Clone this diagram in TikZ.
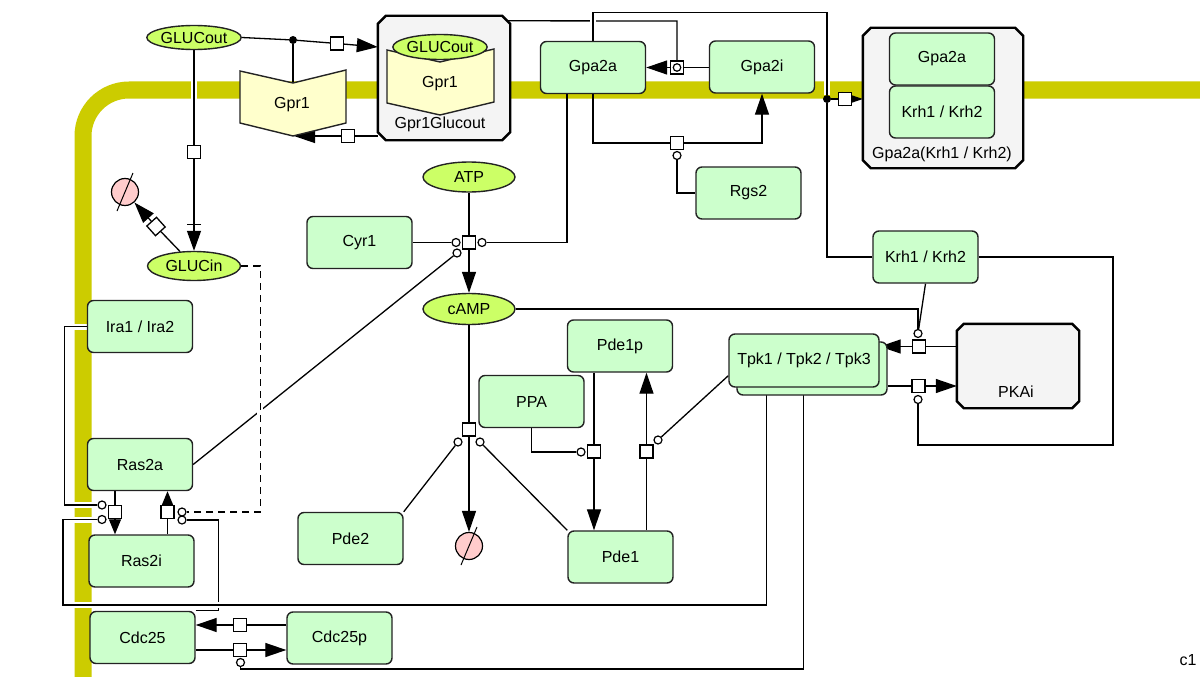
\documentclass[tikz,border=0pt]{standalone}
\usepackage{fontspec}
\setmainfont{Liberation Sans}
\usetikzlibrary{arrows.meta,shapes.geometric,calc}
\pgfdeclarelayer{memb}
\pgfdeclarelayer{lines}
\pgfsetlayers{memb,lines,main}
\definecolor{membc}{RGB}{204,204,0}
\definecolor{pgreen}{RGB}{204,255,204}
\definecolor{chemc}{RGB}{204,255,102}
\definecolor{recepc}{RGB}{255,255,204}
\definecolor{cplxc}{RGB}{244,244,244}
\definecolor{sinkc}{RGB}{255,204,204}
\definecolor{edgec}{RGB}{35,35,35}
\tikzset{
 every node/.style={font=\fontsize{16}{19}\selectfont},
 macro/.style={draw=edgec, line width=1.4pt, fill=pgreen, rounded corners=6pt, minimum width=105pt, minimum height=52pt, inner sep=0pt},
 chemnode/.style={ellipse, draw=edgec, line width=1.4pt, fill=chemc, minimum width=93pt, minimum height=26pt, inner sep=0pt},
 proc/.style={draw=black, line width=1.3pt, fill=white, minimum size=13pt, inner sep=0pt},
 modc/.style={circle, draw=black, line width=1.2pt, fill=white, minimum size=8pt, inner sep=0pt},
 dotn/.style={circle, fill=black, minimum size=8pt, inner sep=0pt},
 inv/.style={inner sep=0pt},
 conn/.style={line width=1.3pt, draw=black},
 arr/.style={conn, -{Triangle[length=21pt,width=14pt]}},
 arrs/.style={conn, -{Triangle[length=15pt,width=12pt]}},
 halo/.style={preaction={draw=white, line width=6pt}},
 halos/.style={preaction={draw=white, line width=6pt, solid}},
 sinkn/.style={circle, draw=black, line width=1.2pt, fill=sinkc, minimum size=27pt, inner sep=0pt},
 cplx/.style={draw=black, line width=2.4pt, fill=cplxc, line join=miter},
 recepsty/.style={draw=edgec, line width=1.4pt, fill=recepc, line join=miter},
 membrane/.style={line width=17pt, draw=membc},
}
\newcommand\myoctagon[3]{\draw[#3] ([xshift=#2]#1.north west) -- ([xshift=-#2]#1.north east) -- ([yshift=-#2]#1.north east) -- ([yshift=#2]#1.south east) -- ([xshift=-#2]#1.south east) -- ([xshift=#2]#1.south west) -- ([yshift=#2]#1.south west) -- ([yshift=-#2]#1.north west) -- cycle;}
\begin{document}
\begin{tikzpicture}[x=1pt,y=-1pt]
\useasboundingbox (0,0) rectangle (1200,677);
% membrane
\begin{pgfonlayer}{memb}
\fill[white] (0,0) rectangle (1200,677);
\draw[membrane, rounded corners=46pt] (83,700) -- (83,90) -- (1220,90);
\end{pgfonlayer}

% ---- complexes ----
\node[inv, minimum width=132pt, minimum height=124pt] (gprcx) at (444,78) {};
\myoctagon{gprcx}{8pt}{cplx}
\draw[recepsty] (387,50) -- (440,62) -- (494,49) -- (494,102) -- (440,115) -- (387,103) -- cycle;
\node[chemnode, minimum width=94pt, minimum height=25pt] (glucoutc) at (440,47) {GLUCout};
\node (gpr1c) at (440,84) {Gpr1};
\node (gprcxl) at (440,124) {Gpr1Glucout};

\node[inv, minimum width=160pt, minimum height=140pt] (gkcx) at (943,98) {};
\myoctagon{gkcx}{8pt}{cplx}
\node[macro] (gpa2ac) at (942,59) {Gpa2a};
\node[macro] (krhc) at (942,112) {Krh1 / Krh2};
\node (gkcxl) at (942,154) {Gpa2a(Krh1 / Krh2)};

\node[inv, minimum width=122pt, minimum height=84pt] (pkai) at (1018,366) {};
\myoctagon{pkai}{7pt}{cplx}
\node (pkail) at (1016,392) {PKAi};

% ---- receptor ----
\draw[recepsty] (240,71) -- (293,83) -- (346,70) -- (346,123) -- (293,136) -- (240,123) -- cycle;
\node (gpr1) at (292,105) {Gpr1};
\coordinate (gpr1top) at (293,83);
\coordinate (gpr1bot) at (294,136);

% ---- entity pool nodes ----
\node[chemnode, minimum height=24pt] (glucout) at (194,37.5) {GLUCout};
\node[chemnode, minimum height=29pt] (glucin) at (194,266) {GLUCin};
\node[chemnode, minimum width=92pt, minimum height=30pt] (atp) at (469,177) {ATP};
\node[chemnode, minimum width=92pt, minimum height=31pt] (camp) at (469,309) {cAMP};
\node[macro] (gpa2a) at (593,67.5) {Gpa2a};
\node[macro] (gpa2i) at (762,67) {Gpa2i};
\node[macro] (rgs2) at (748.5,193) {Rgs2};
\node[macro] (cyr1) at (359.5,242.5) {Cyr1};
\node[macro] (krh) at (925.5,257) {Krh1 / Krh2};
\node[macro] (ira) at (140,326.5) {Ira1 / Ira2};
\node[macro] (pde1p) at (620,346) {Pde1p};
\node[macro] (ppa) at (531.5,401.5) {PPA};
\node[macro, minimum width=150pt, minimum height=53pt] (tpkb) at (812,368.5) {};
\node[macro, minimum width=150pt, minimum height=53pt] (tpk) at (804,360.5) {Tpk1 / Tpk2 / Tpk3};
\node[macro] (ras2a) at (140,464.5) {Ras2a};
\node[macro] (ras2i) at (141.5,561) {Ras2i};
\node[macro] (pde2) at (350.5,538.5) {Pde2};
\node[macro] (pde1) at (620.5,557) {Pde1};
\node[macro] (cdc25) at (142.5,637.5) {Cdc25};
\node[macro] (cdc25p) at (339.5,638) {Cdc25p};
\node (c1lab) at (1188,660) {c1};

% ---- sinks ----
\node[sinkn] (sink1) at (125,192) {};
\draw[line width=1pt] ($(sink1)+(-8,19)$) -- ($(sink1)+(8,-19)$);
\node[sinkn] (sink2) at (469,546) {};
\draw[line width=1pt] ($(sink2)+(-8,19)$) -- ($(sink2)+(8,-19)$);

% ---- process nodes ----
\node[dotn] (dot1) at (293,40) {};
\node[proc] (p1) at (337,43.5) {};
\node[proc] (p2) at (348,136) {};
\node[proc] (p3) at (194,152) {};
\node[proc, rotate=42] (p4) at (156,226.5) {};
\node[proc] (p5) at (677,67.5) {};
\node[modc, minimum size=7.5pt] (p5c) at (677,67.5) {};
\node[proc] (p6) at (677,143) {};
\node[modc] (c6) at (677,155.5) {};
\node[dotn] (dot2) at (827,99) {};
\node[proc] (p7) at (845,99) {};
\node[proc] (p8) at (469,242.5) {};
\node[modc] (c8l) at (456,242.5) {};
\node[modc] (c8r) at (482,242.5) {};
\node[modc] (c8b) at (457,253) {};
\node[proc] (p9) at (469,429.5) {};
\node[modc] (c9l) at (458,442) {};
\node[modc] (c9r) at (480,442) {};
\node[proc] (p10) at (594,451.5) {};
\node[modc] (c10) at (581,452) {};
\node[proc] (p11) at (646.5,451.5) {};
\node[modc] (c11) at (658,440) {};
\node[proc] (p12) at (919,346.5) {};
\node[modc] (c12) at (918,333.5) {};
\node[proc] (p13) at (918.5,386) {};
\node[modc] (c13) at (918,399.5) {};
\node[proc] (p14) at (115,512) {};
\node[modc] (c14a) at (102,505) {};
\node[modc] (c14b) at (102,519.5) {};
\node[proc] (p15) at (167.5,512) {};
\node[modc] (c15a) at (182,512) {};
\node[modc] (c15b) at (182,520) {};
\node[proc] (p16) at (240,625) {};
\node[proc] (p17) at (240,650) {};
\node[modc] (c17) at (240.5,662.5) {};

% ---- connectors ----
\begin{pgfonlayer}{lines}
% glucose binding to Gpr1
\draw[conn] (glucout.east) -- (dot1);
\draw[conn] (gpr1top) -- (dot1);
\draw[conn] (dot1) -- (p1);
\draw[arr] (p1) -- ($(gprcx.west)+(0,-31)$);
\draw[conn] (gprcx.west |- p2) -- (p2);
\draw[arr] (p2) -- (gpr1bot);
% glucose transport
\draw[conn, halo] (glucout.south) -- (p3);
\draw[conn, -{Bar[width=14pt,sep=6pt]Triangle[length=20pt,width=14pt]}] (p3) -- (glucin);
\draw[conn] (glucin) -- (p4);
\draw[arr] (p4) -- (sink1);
% Gpa2 cycle
\draw[conn] ($(gprcx.north east)+(-3,5)$) -- (677,21) -- (p5.north);
\draw[conn] (gpa2i.west |- p5) -- (p5);
\draw[arr] (p5) -- (gpa2a.east |- p5);
\draw[conn] (gpa2a.south) |- (p6);
\draw[arr] (p6) -| (gpa2i.south);
\draw[conn] (c6) |- (rgs2.west);
% Gpa2a + Krh complex
\draw[conn, halo] (gpa2a.north) -- ++(0,-28) -| (dot2);
\draw[conn] (krh.west) -| (dot2);
\draw[conn] (dot2) -- (p7);
\draw[arr] (p7) -- (gkcx.west |- p7);
% ATP -> cAMP
\draw[conn] (atp) -- (p8);
\draw[arr] (p8) -- (camp);
\draw[conn] (cyr1.east) -- (c8l);
\draw[conn] (c8r) -| ($(gpa2a.south)+(-26,0)$);
\draw[conn] (ras2a.east) -- (c8b);
% cAMP degradation
\draw[conn] (camp) -- (p9);
\draw[arr] (p9) -- (sink2);
\draw[conn] (c9l) -- (pde2.north east);
\draw[conn] (c9r) -- (pde1.north west);
% Pde1 cycle
\draw[conn] (pde1p.south -| p10) -- (p10);
\draw[arr] (p10) -- (pde1.north -| p10);
\draw[conn] (ppa.south) |- (c10);
\draw[conn] (pde1.north -| p11) -- (p11);
\draw[arr] (p11) -- (pde1p.south -| p11);
\draw[conn] ($(tpk.south west)+(0,-12)$) -- (c11);
% PKA
\draw[conn] (pkai.west |- p12) -- (p12);
\draw[arr] (p12) -- (tpk.east |- p12);
\draw[conn] (camp.east) -| (c12);
\draw[conn] (krh.south) -- (c12);
\draw[conn] (tpkb.east |- p13) -- (p13);
\draw[arr] (p13) -- (pkai.west |- p13);
\draw[conn] (krh.east) -| (1113,445) -| (c13);
% Ras2 cycle
\draw[conn] (ras2a.south -| p14) -- (p14);
\draw[arrs] (p14) -- (ras2i.north -| p14);
\draw[conn] (ras2i.north -| p15) -- (p15);
\draw[arrs] (p15) -- (ras2a.south -| p15);
\draw[conn, halo] (ira.west) -- ++(-22,0) |- (c14a);
\draw[conn] (cdc25.north east) -- ++(23,0) |- (c15b);
\draw[conn, halos, dash pattern=on 7pt off 5pt] (glucin.east) -- ++(19,0) |- (c15a);
\draw[conn, halo] ($(tpk.south west)+(38,0)$) |- (63,605) |- (c14b);
% Cdc25 cycle
\draw[conn] (cdc25p.west |- p16) -- (p16);
\draw[arr] (p16) -- (cdc25.east |- p16);
\draw[conn] (cdc25.east |- p17) -- (p17);
\draw[arr] (p17) -- (cdc25p.west |- p17);
\draw[conn] ($(tpk.south west)+(75,0)$) |- ($(c17)+(0,6.5)$) -- (c17);
\end{pgfonlayer}
\end{tikzpicture}
\end{document}
